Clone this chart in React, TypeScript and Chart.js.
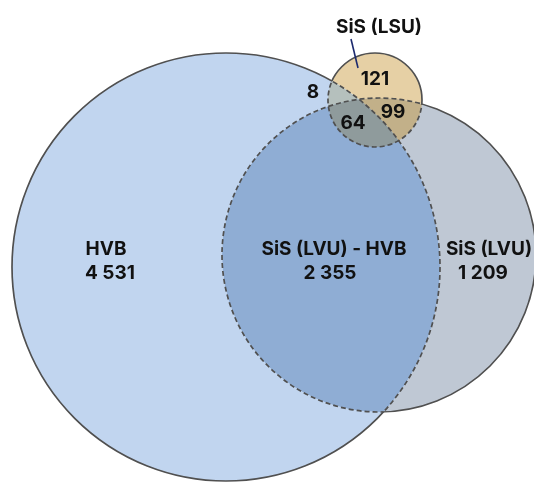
import React, { useEffect, useRef } from "react";
import { Chart, registerables } from "chart.js";

Chart.register(...registerables);

// Venn sets (layout in diagram units: centre x, centre y, radius)
const setNames = ["HVB", "SiS (LVU)", "SiS (LSU)"];
const setCx = [226, 379, 375];
const setCy = [267, 255, 100];
const setR = [214, 157, 47];

// Region labels with counts
const regionNames = ["HVB", "SiS (LVU) - HVB", "SiS (LVU)"];
const regionValues = [4531, 2355, 1209];
const regionNameX = [106, 334, 489];
const regionValueX = [110, 330, 483];
const regionNameY = [249, 249, 249];
const regionValueY = [273, 273, 273];

// Small LSU region counts
const smallValues = [121, 8, 99, 64];
const smallX = [375, 313, 393, 353];
const smallY = [79, 92, 112, 123];

// LSU callout
const calloutText = "SiS (LSU)";
const calloutPos = [379, 27];
const calloutLine = [351, 39, 358, 68];

const FONT = "Inter, 'Liberation Sans', Arial, sans-serif";

function fmt(n: number): string {
  const s = String(n);
  return s.replace(/\B(?=(\d{3})+(?!\d))/g, " ");
}

const vennPlugin = {
  id: "venn",
  afterDatasetsDraw(chart: any) {
    const ctx: CanvasRenderingContext2D = chart.ctx;
    const xs = chart.scales.x;
    const ys = chart.scales.y;
    const W = chart.width;
    const H = chart.height;
    const cx = setCx.map((v) => xs.getPixelForValue(v));
    const cy = setCy.map((v) => ys.getPixelForValue(v));
    const r = setR.map((v) => Math.abs(xs.getPixelForValue(v) - xs.getPixelForValue(0)));

    const arc = (i: number) => {
      ctx.moveTo(cx[i] + r[i], cy[i]);
      ctx.arc(cx[i], cy[i], r[i], 0, Math.PI * 2);
    };
    const clipIn = (i: number) => {
      ctx.beginPath();
      arc(i);
      ctx.clip();
    };
    const clipOut = (i: number) => {
      ctx.beginPath();
      ctx.rect(-10, -10, W + 20, H + 20);
      arc(i);
      ctx.clip("evenodd");
    };

    const regions = [
      { inn: [0], out: [1], color: "#c1d5ef" },
      { inn: [1], out: [0], color: "#bfc8d4" },
      { inn: [0, 1], out: [], color: "#8fadd4" },
      { inn: [2], out: [0, 1], color: "#e6d0a5" },
      { inn: [2, 0], out: [1], color: "#b5c0bd" },
      { inn: [2, 1], out: [0], color: "#c2b089" },
      { inn: [2, 0, 1], out: [], color: "#8f9b9c" },
    ];
    regions.forEach((rg) => {
      ctx.save();
      rg.inn.forEach(clipIn);
      rg.out.forEach(clipOut);
      ctx.fillStyle = rg.color;
      ctx.fillRect(0, 0, W, H);
      ctx.restore();
    });

    // outlines: solid outside other sets, dashed inside
    ctx.strokeStyle = "#505050";
    ctx.lineWidth = 1.7;
    for (let i = 0; i < 3; i++) {
      const others = [0, 1, 2].filter((k) => k !== i);
      ctx.save();
      others.forEach(clipOut);
      ctx.setLineDash([]);
      ctx.beginPath();
      arc(i);
      ctx.stroke();
      ctx.restore();

      ctx.save();
      ctx.beginPath();
      others.forEach(arc);
      ctx.clip();
      ctx.setLineDash([5, 3]);
      ctx.beginPath();
      arc(i);
      ctx.stroke();
      ctx.restore();
    }

    // labels
    ctx.save();
    ctx.fillStyle = "#111111";
    ctx.textAlign = "center";
    ctx.textBaseline = "middle";
    ctx.font = `650 19px ${FONT}`;
    regionNames.forEach((name, i) => {
      ctx.fillText(name, xs.getPixelForValue(regionNameX[i]), ys.getPixelForValue(regionNameY[i]));
      ctx.fillText(
        fmt(regionValues[i]),
        xs.getPixelForValue(regionValueX[i]),
        ys.getPixelForValue(regionValueY[i])
      );
    });
    smallValues.forEach((v, i) => {
      ctx.fillText(fmt(v), xs.getPixelForValue(smallX[i]), ys.getPixelForValue(smallY[i]));
    });
    ctx.fillText(calloutText, xs.getPixelForValue(calloutPos[0]), ys.getPixelForValue(calloutPos[1]));
    ctx.strokeStyle = "#1c2a6e";
    ctx.lineWidth = 1.6;
    ctx.beginPath();
    ctx.moveTo(xs.getPixelForValue(calloutLine[0]), ys.getPixelForValue(calloutLine[1]));
    ctx.lineTo(xs.getPixelForValue(calloutLine[2]), ys.getPixelForValue(calloutLine[3]));
    ctx.stroke();
    ctx.restore();
  },
};

export default function App() {
  const ref = useRef<HTMLCanvasElement | null>(null);
  useEffect(() => {
    document.body.style.margin = "0";
    const chart = new Chart(ref.current as HTMLCanvasElement, {
      type: "scatter",
      data: {
        datasets: [
          {
            label: "sets",
            data: setNames.map((_, i) => ({ x: setCx[i], y: setCy[i] })),
            pointRadius: 0,
          },
        ],
      },
      options: {
        animation: false,
        responsive: false,
        events: [],
        layout: { padding: 0 },
        plugins: { legend: { display: false }, tooltip: { enabled: false } },
        scales: {
          x: { type: "linear", min: 0, max: 534, display: false },
          y: { type: "linear", min: 0, max: 482, reverse: true, display: false },
        },
      },
      plugins: [vennPlugin],
    });
    return () => chart.destroy();
  }, []);
  return (
    <div style={{ position: "fixed", left: 0, top: 0, width: 534, height: 482, background: "#fff" }}>
      <canvas ref={ref} width={534} height={482} style={{ display: "block" }} />
    </div>
  );
}
